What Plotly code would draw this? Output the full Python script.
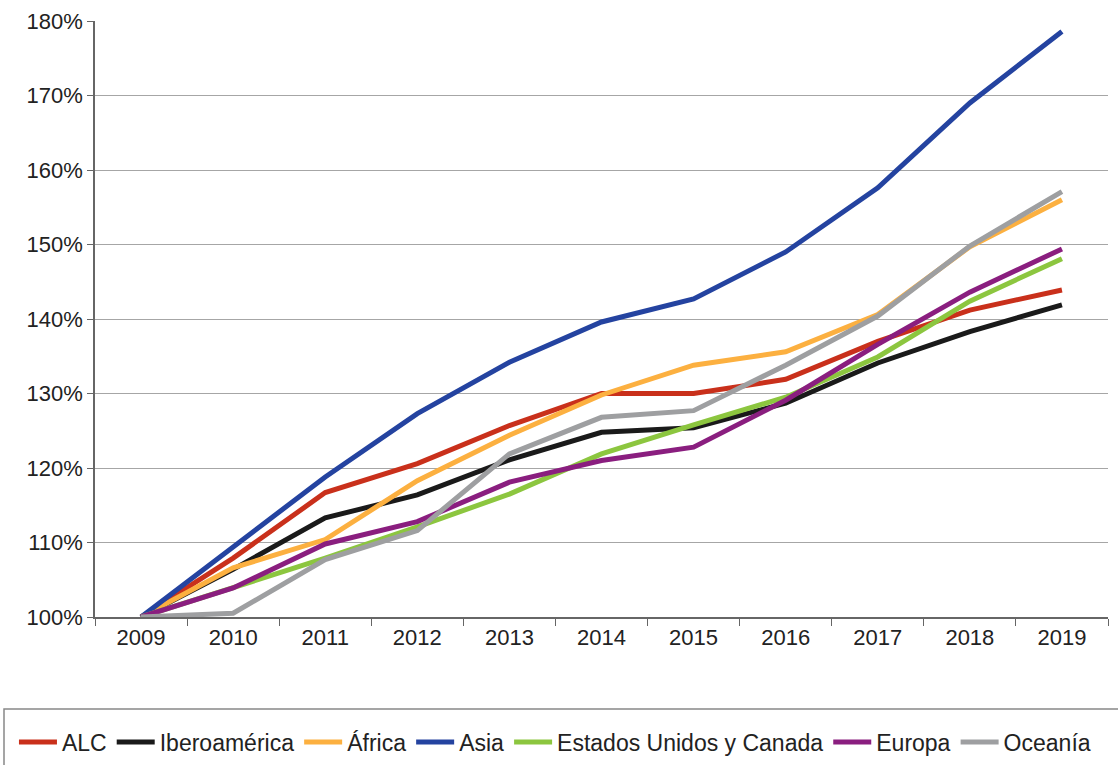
import plotly.graph_objects as go

years = ["2009", "2010", "2011", "2012", "2013", "2014", "2015", "2016", "2017", "2018", "2019"]

alc = [100, 107.9, 116.7, 120.6, 125.7, 130.0, 130.0, 131.9, 137.0, 141.2, 143.9]
iberoamerica = [100, 106.4, 113.3, 116.4, 121.1, 124.8, 125.4, 128.7, 134.1, 138.3, 141.9]
africa = [100, 106.6, 110.4, 118.3, 124.4, 129.8, 133.8, 135.6, 140.6, 149.7, 156.0]
asia = [100, 109.5, 118.8, 127.3, 134.2, 139.6, 142.7, 149.0, 157.6, 169.0, 178.6]
eeuu_canada = [100, 104.0, 107.9, 112.1, 116.5, 121.9, 125.8, 129.5, 134.9, 142.4, 148.1]
europa = [100, 103.9, 109.8, 112.8, 118.1, 121.0, 122.8, 129.1, 136.6, 143.6, 149.4]
oceania = [100, 100.5, 107.7, 111.6, 121.9, 126.8, 127.7, 133.8, 140.4, 149.8, 157.1]

series = [
    ("ALC", alc, "#C9301B"),
    ("Iberoamérica", iberoamerica, "#1A1A1A"),
    ("África", africa, "#FCB040"),
    ("Asia", asia, "#2443A0"),
    ("Estados Unidos y Canada", eeuu_canada, "#8CC63F"),
    ("Europa", europa, "#8A1E7F"),
    ("Oceanía", oceania, "#9E9FA1"),
]

y_ticks = [100, 110, 120, 130, 140, 150, 160, 170, 180]
y_labels = [f"{v}%" for v in y_ticks]

fig = go.Figure()
for name, vals, color in series:
    fig.add_trace(go.Scatter(x=years, y=vals, name=name, mode="lines",
                             line=dict(color=color, width=5)))

font = "Liberation Sans, Arial, sans-serif"
fig.update_layout(
    width=1118, height=765,
    margin=dict(l=95, r=10, t=21, b=148, autoexpand=False),
    paper_bgcolor="white", plot_bgcolor="white",
    font=dict(family=font, size=22, color="#222"),
    showlegend=True,
    legend=dict(orientation="h", x=-0.080, xanchor="left", y=-0.2097, yanchor="middle",
                font=dict(family=font, size=23, color="#222"),
                bgcolor="rgba(0,0,0,0)", borderwidth=0, itemwidth=38,
                tracegroupgap=0),
    xaxis=dict(type="category", range=[-0.5, 10.5], showgrid=False, automargin=False,
               showline=True, linecolor="#666", linewidth=1.5,
               ticks="outside", tickson="boundaries", ticklen=7, tickcolor="#666",
               tickfont=dict(size=22, color="#222")),
    yaxis=dict(range=[100, 180], tickvals=y_ticks, ticktext=y_labels, automargin=False,
               showgrid=True, gridcolor="#A6A6A6", gridwidth=1.3,
               showline=True, linecolor="#666", linewidth=1.5,
               ticks="outside", ticklen=6, tickcolor="#666", zeroline=False,
               tickfont=dict(size=22, color="#222")),
    shapes=[dict(type="rect", xref="paper", yref="paper",
                 x0=(4 - 95) / 1013, x1=1.05, y0=(617 - 709) / 596, y1=-0.4,
                 line=dict(color="#888", width=1.5), fillcolor="rgba(0,0,0,0)",
                 layer="below")],
)

fig.write_html("out.html", config={"displayModeBar": False},
               post_script="document.body.style.margin='0';")
